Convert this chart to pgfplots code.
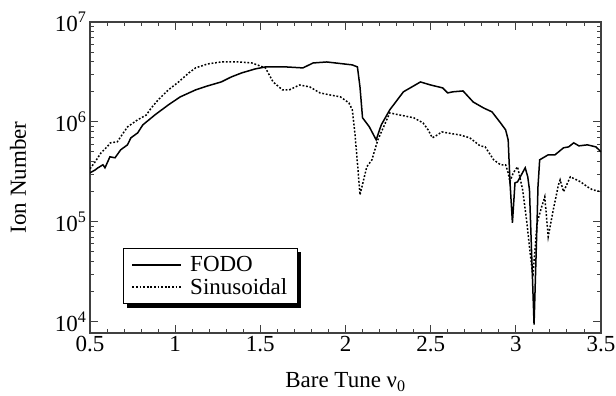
\documentclass[border=0pt]{standalone}
\usepackage{fontspec}
\setmainfont{Liberation Serif}
\usepackage{pgfplots}
\pgfplotsset{compat=1.18}
\usetikzlibrary{backgrounds}
\begin{document}
\begin{tikzpicture}
\useasboundingbox (0,0) rectangle (616pt,396pt);
\begin{axis}[
  at={(90pt,63pt)}, anchor=south west,
  scale only axis, width=511pt, height=311pt,
  xmin=0.5, xmax=3.5, ymode=log, ymin=7.7e3, ymax=1e7,
  xtick={0.5,1,1.5,2,2.5,3,3.5},
  xticklabels={0.5,1,1.5,2,2.5,3,3.5},
  minor x tick num=4,
  ytick={1e4,1e5,1e6,1e7},
  yticklabels={10\textsuperscript{4},10\textsuperscript{5},10\textsuperscript{6},10\textsuperscript{7}},
  tick align=inside,
  major tick length=8pt, minor tick length=4pt,
  axis line style={black!75, line width=1.1pt},
  every tick/.style={black!75, line width=0.9pt},
  tick label style={font=\fontsize{23}{26}\selectfont},
  label style={font=\fontsize{23}{26}\selectfont},
  xlabel={Bare Tune ν\textsubscript{0}},
  ylabel={Ion Number},
  xlabel style={at={(axis description cs:0.5,-0.115)}, anchor=north},
  ylabel style={at={(axis description cs:-0.141,0.5)}, anchor=center},
  legend style={name=leg, at={(0.065,0.273)}, anchor=north west, draw=black, line width=1pt, fill=white,
    font=\fontsize{23}{25}\selectfont, inner xsep=8pt, inner ysep=6pt,
    row sep=1pt, /tikz/every odd column/.append style={column sep=6pt}},
  legend cell align=left,
  legend image code/.code={\draw[#1] (0pt,0pt) -- (49pt,0pt);},
]
\addplot[black, line width=1.5pt] coordinates {
(0.50,3.09e5) (0.53,3.3e5) (0.547,3.47e5) (0.576,3.72e5) (0.588,3.47e5) (0.617,4.47e5)
(0.647,4.37e5) (0.68,5.25e5) (0.72,5.89e5) (0.74,6.92e5) (0.78,7.76e5) (0.81,9.33e5)
(0.88,1.17e6) (0.96,1.48e6) (1.03,1.78e6) (1.12,2.09e6) (1.19,2.29e6) (1.27,2.51e6)
(1.33,2.82e6) (1.39,3.09e6) (1.47,3.39e6) (1.53,3.55e6) (1.65,3.55e6) (1.75,3.47e6)
(1.81,3.89e6) (1.89,3.98e6) (2.04,3.72e6) (2.07,3.55e6) (2.085,2.24e6) (2.10,1.10e6)
(2.14,8.91e5) (2.18,6.61e5) (2.21,9.33e5) (2.26,1.32e6) (2.34,2.00e6) (2.44,2.51e6)
(2.50,2.34e6) (2.57,2.19e6) (2.60,1.95e6) (2.63,2.00e6) (2.69,2.04e6) (2.75,1.58e6)
(2.81,1.38e6) (2.86,1.26e6) (2.91,9.77e5) (2.94,8.32e5) (2.955,6.61e5) (2.966,2.45e5)
(2.98,9.77e4) (2.995,2.45e5) (3.01,2.51e5) (3.055,3.47e5) (3.07,2.82e5) (3.08,2.09e5)
(3.107,9.33e3) (3.125,1.05e5) (3.13,2.24e5) (3.14,4.17e5) (3.19,4.68e5) (3.23,4.68e5)
(3.28,5.50e5) (3.31,5.62e5) (3.34,6.17e5) (3.37,5.75e5) (3.42,5.89e5) (3.47,5.62e5)
(3.50,5.01e5)
};
\addlegendentry{FODO}
\addplot[black, line width=1.5pt, dash pattern=on 1.8pt off 1.8pt] coordinates {
(0.50,3.39e5) (0.53,3.98e5) (0.565,4.90e5) (0.60,5.62e5) (0.62,6.17e5) (0.66,6.31e5)
(0.68,7.08e5) (0.72,8.91e5) (0.78,1.05e6) (0.83,1.17e6) (0.86,1.38e6) (0.90,1.66e6)
(0.96,2.09e6) (1.02,2.51e6) (1.08,3.09e6) (1.12,3.47e6) (1.19,3.80e6) (1.27,3.98e6)
(1.37,3.98e6) (1.45,3.89e6) (1.53,3.47e6) (1.575,2.51e6) (1.63,2.09e6) (1.67,2.09e6)
(1.73,2.34e6) (1.79,2.24e6) (1.85,1.95e6) (1.91,1.86e6) (1.97,1.78e6) (2.02,1.55e6)
(2.04,1.32e6) (2.055,7.76e5) (2.075,3.09e5) (2.085,1.86e5) (2.125,3.55e5) (2.155,4.17e5)
(2.19,6.61e5) (2.26,1.23e6) (2.32,1.17e6) (2.40,1.10e6) (2.455,9.77e5) (2.485,8.32e5)
(2.51,6.92e5) (2.54,7.41e5) (2.565,7.94e5) (2.63,7.59e5) (2.67,7.41e5) (2.73,6.92e5)
(2.79,5.75e5) (2.82,5.62e5) (2.87,4.17e5) (2.91,3.72e5) (2.94,3.72e5) (2.955,3.09e5)
(2.965,2.51e5) (2.985,3.09e5) (3.01,3.55e5) (3.04,2.09e5) (3.065,9.77e4) (3.08,5.62e4)
(3.10,2.82e4) (3.125,9.77e4) (3.15,1.38e5) (3.17,1.78e5) (3.19,7.08e4) (3.22,1.32e5)
(3.25,2.34e5) (3.26,2.63e5) (3.28,2.00e5) (3.32,2.82e5) (3.38,2.51e5) (3.42,2.24e5)
(3.45,2.09e5) (3.50,2.00e5)
};
\addlegendentry{Sinusoidal}
\end{axis}
\begin{pgfonlayer}{background}
\fill[black] ([shift={(3.5pt,-3.5pt)}]leg.south west) rectangle ([shift={(3.5pt,-3.5pt)}]leg.north east);
\end{pgfonlayer}
\end{tikzpicture}
\end{document}
